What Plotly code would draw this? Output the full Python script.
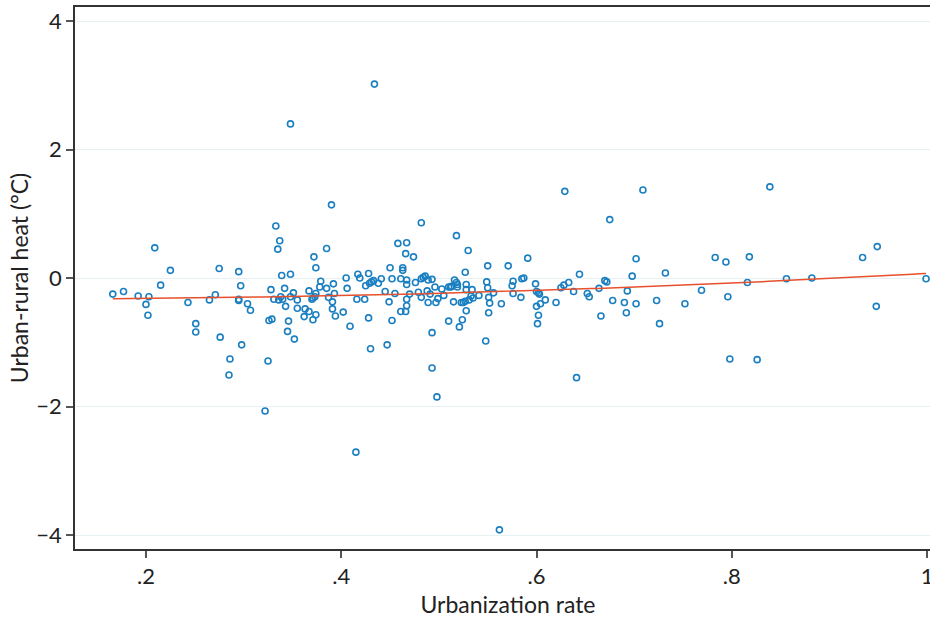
import numpy as np
import plotly.graph_objects as go

# Urbanization rate (x) and urban-rural heat difference in °C (y)
urban_rate = [
    0.166, 0.177, 0.192, 0.203, 0.200, 0.202, 0.209, 0.225, 0.215, 0.243,
    0.251, 0.251, 0.265, 0.271, 0.275, 0.276, 0.286, 0.285, 0.295, 0.297,
    0.295, 0.295, 0.298, 0.304, 0.307, 0.333, 0.337, 0.335, 0.325, 0.328,
    0.326, 0.329, 0.331, 0.336, 0.338, 0.340, 0.339, 0.342, 0.343, 0.348,
    0.346, 0.345, 0.352, 0.351, 0.348, 0.355, 0.355, 0.363, 0.367, 0.362,
    0.371, 0.374, 0.367, 0.370, 0.371, 0.373, 0.374, 0.372, 0.374, 0.379,
    0.378, 0.385, 0.385, 0.387, 0.390, 0.392, 0.393, 0.391, 0.391, 0.394,
    0.402, 0.405, 0.406, 0.409, 0.416, 0.417, 0.419, 0.424, 0.425, 0.428,
    0.428, 0.429, 0.431, 0.433, 0.430, 0.438, 0.441, 0.445, 0.447, 0.450,
    0.449, 0.452, 0.452, 0.455, 0.458, 0.461, 0.461, 0.466, 0.463, 0.463,
    0.466, 0.467, 0.467, 0.467, 0.467, 0.467, 0.470, 0.474, 0.476, 0.479,
    0.482, 0.482, 0.482, 0.484, 0.486, 0.489, 0.488, 0.489, 0.491, 0.493,
    0.493, 0.493, 0.496, 0.497, 0.498, 0.499, 0.503, 0.505, 0.510, 0.512,
    0.513, 0.510, 0.515, 0.516, 0.518, 0.518, 0.519, 0.519, 0.521, 0.523,
    0.525, 0.527, 0.524, 0.527, 0.528, 0.528, 0.528, 0.530, 0.531, 0.534,
    0.533, 0.535, 0.541, 0.548, 0.549, 0.550, 0.550, 0.551, 0.552, 0.551,
    0.556, 0.564, 0.571, 0.575, 0.576, 0.576, 0.584, 0.585, 0.587, 0.591,
    0.599, 0.600, 0.602, 0.603, 0.600, 0.604, 0.609, 0.602, 0.601, 0.620,
    0.625, 0.628, 0.633, 0.629, 0.638, 0.641, 0.644, 0.652, 0.654, 0.664,
    0.666, 0.670, 0.672, 0.675, 0.678, 0.690, 0.692, 0.693, 0.698, 0.702,
    0.702, 0.709, 0.723, 0.726, 0.732, 0.752, 0.769, 0.783, 0.794, 0.796,
    0.798, 0.816, 0.818, 0.826, 0.839, 0.856, 0.882, 0.934, 0.949, 0.948,
    0.999, 0.322, 0.415, 0.562, 0.348, 0.434,
]

heat_diff = [
    -0.25, -0.21, -0.28, -0.29, -0.41, -0.58, 0.47, 0.12, -0.11, -0.38,
    -0.71, -0.84, -0.34, -0.26, 0.15, -0.92, -1.26, -1.51, 0.10, -0.12,
    -0.33, -0.35, -1.04, -0.40, -0.50, 0.81, 0.58, 0.45, -1.29, -0.18,
    -0.66, -0.64, -0.33, -0.34, -0.29, -0.33, 0.04, -0.16, -0.44, 0.06,
    -0.67, -0.83, -0.95, -0.23, -0.29, -0.34, -0.47, -0.48, -0.52, -0.60,
    -0.65, -0.57, -0.20, -0.33, -0.31, -0.29, -0.24, 0.33, 0.16, -0.05,
    -0.14, -0.16, 0.46, -0.30, 1.14, -0.09, -0.24, -0.37, -0.48, -0.59,
    -0.53, 0.00, -0.16, -0.75, -0.33, 0.06, 0.00, -0.33, -0.12, -0.62,
    0.07, -0.08, -0.06, -0.04, -1.10, -0.08, -0.01, -0.21, -1.04, 0.16,
    -0.37, -0.01, -0.66, -0.24, 0.54, -0.01, -0.52, -0.52, 0.16, 0.12,
    0.38, 0.55, -0.03, -0.10, -0.33, -0.43, -0.25, 0.33, -0.07, -0.22,
    -0.30, 0.86, -0.01, 0.01, 0.03, -0.03, -0.20, -0.38, -0.25, -0.85,
    -1.40, -0.02, -0.14, -0.38, -1.85, -0.32, -0.17, -0.27, -0.14, -0.14,
    -0.13, -0.67, -0.37, -0.03, 0.66, -0.07, -0.10, -0.14, -0.76, -0.38,
    -0.38, -0.36, -0.65, 0.09, -0.18, -0.10, -0.51, 0.43, -0.34, -0.18,
    -0.28, -0.31, -0.27, -0.98, -0.06, 0.19, -0.15, -0.30, -0.39, -0.54,
    -0.23, -0.40, 0.19, -0.12, -0.05, -0.24, -0.30, -0.01, 0.00, 0.31,
    -0.09, -0.21, -0.23, -0.25, -0.44, -0.40, -0.34, -0.58, -0.71, -0.38,
    -0.15, -0.11, -0.07, 1.35, -0.21, -1.55, 0.06, -0.24, -0.29, -0.16,
    -0.59, -0.04, -0.06, 0.91, -0.35, -0.38, -0.54, -0.20, 0.03, 0.30,
    -0.40, 1.37, -0.35, -0.71, 0.08, -0.40, -0.19, 0.32, 0.25, -0.29,
    -1.26, -0.07, 0.33, -1.27, 1.42, -0.01, 0.00, 0.32, 0.49, -0.44,
    -0.01, -2.07, -2.71, -3.92, 2.40, 3.02,
]

x_tick_vals = [0.2, 0.4, 0.6, 0.8, 1.0]
x_tick_text = [".2", ".4", ".6", ".8", "1"]
y_tick_vals = [-4, -2, 0, 2, 4]
y_tick_text = ["\u22124", "\u22122", "0", "2", "4"]

x_title = "Urbanization rate"
y_title = "Urban-rural heat (°C)"

# quadratic fitted values from the scatter data
xs = np.asarray(urban_rate)
ys = np.asarray(heat_diff)
coef = np.polyfit(xs, ys, 2)
fit_x = np.linspace(xs.min(), xs.max(), 120)
fit_y = np.polyval(coef, fit_x)

fig = go.Figure()
fig.add_trace(go.Scatter(
    x=urban_rate, y=heat_diff, mode="markers",
    marker=dict(symbol="circle-open", size=6, color="#1a7fc1",
                line=dict(width=1.6, color="#1a7fc1")),
    hoverinfo="x+y", cliponaxis=False,
))
fig.add_trace(go.Scatter(
    x=fit_x, y=fit_y, mode="lines",
    line=dict(color="#e6502c", width=1.5),
    hoverinfo="skip",
))

axis_font = dict(family="Lato", size=22, color="#222")
title_font = dict(family="Lato", size=23, color="#222")

# the reference's plot frame runs a little past the 930 px window on the right
fig.update_layout(
    width=941, height=622,
    margin=dict(l=75, r=0, t=7, b=73),
    plot_bgcolor="white", paper_bgcolor="white",
    showlegend=False,
    font=dict(family="Lato", color="#222"),
)
fig.update_xaxes(
    range=[0.1273, 1.0143], automargin=False,
    tickmode="array", tickvals=x_tick_vals, ticktext=x_tick_text,
    ticks="outside", ticklen=7, tickwidth=1.5, tickcolor="#555",
    ticklabeloverflow="allow",
    showline=True, linecolor="#333", linewidth=1.5, mirror=True,
    showgrid=False, zeroline=False,
    tickfont=axis_font,
    title=dict(text=x_title, font=title_font, standoff=9),
)
fig.update_yaxes(
    range=[-4.218, 4.22], automargin=False,
    tickmode="array", tickvals=y_tick_vals, ticktext=y_tick_text,
    ticks="outside", ticklen=7, tickwidth=1.5, tickcolor="#555",
    showline=True, linecolor="#333", linewidth=1.5,
    showgrid=True, gridcolor="#e6f1f3", gridwidth=1,
    zeroline=False,
    tickfont=axis_font,
    title=dict(text=y_title, font=title_font, standoff=1),
)

fig.write_html(
    "out.html",
    config={"displayModeBar": False},
    post_script="document.body.style.margin='0';document.body.style.overflow='hidden';",
)
